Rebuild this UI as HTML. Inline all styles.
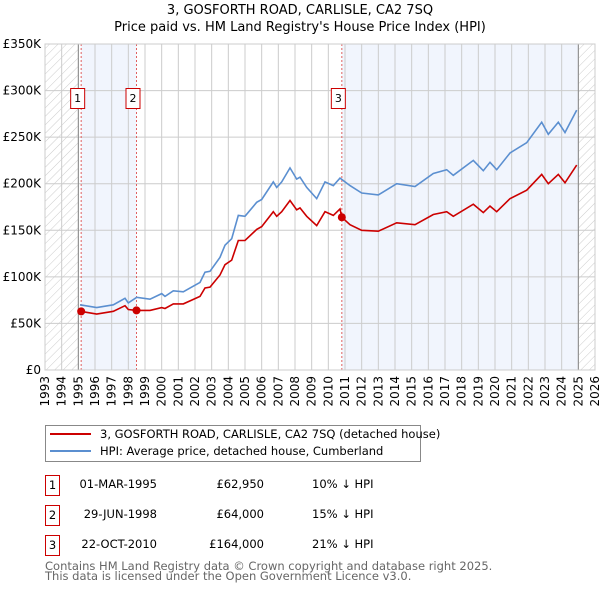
<!DOCTYPE html>
<html><head><meta charset="utf-8"><style>
body{margin:0;background:#fff;font-family:"Liberation Sans","DejaVu Sans",sans-serif;}
svg text{font-family:"DejaVu Sans","Liberation Sans",sans-serif;}
</style></head><body>
<svg id="chart" width="600" height="590" viewBox="0 0 600 590" xmlns="http://www.w3.org/2000/svg">
<defs><pattern id="hatch" width="6" height="6" patternUnits="userSpaceOnUse" patternTransform="rotate(45)"><line x1="0" y1="0" x2="0" y2="6" stroke="#ccc" stroke-width="1"/></pattern></defs>
<text x="300" y="14" text-anchor="middle" font-size="13" fill="#000">3, GOSFORTH ROAD, CARLISLE, CA2 7SQ</text>
<text x="300" y="31" text-anchor="middle" font-size="13" fill="#000">Price paid vs. HM Land Registry's House Price Index (HPI)</text>
<g id="plot"></g>
<g>
<rect x="45.5" y="425.5" width="375" height="36" fill="#fff" stroke="#888"/>
<line x1="50" y1="434" x2="91" y2="434" stroke="#cc0000" stroke-width="2"/>
<text x="100" y="438" font-size="11.5">3, GOSFORTH ROAD, CARLISLE, CA2 7SQ (detached house)</text>
<line x1="50" y1="451" x2="91" y2="451" stroke="#5b8fd0" stroke-width="2"/>
<text x="100" y="455" font-size="11.5">HPI: Average price, detached house, Cumberland</text>
</g>
<g font-size="11.5">
<rect x="45.5" y="475.5" width="14" height="20" fill="#fff" stroke="#c00"/><text x="52.5" y="489" text-anchor="middle">1</text>
<text x="157" y="488" text-anchor="end">01-MAR-1995</text><text x="264" y="488" text-anchor="end">£62,950</text><text x="312" y="488">10% ↓ HPI</text>
<rect x="45.5" y="505.5" width="14" height="20" fill="#fff" stroke="#c00"/><text x="52.5" y="519" text-anchor="middle">2</text>
<text x="157" y="518" text-anchor="end">29-JUN-1998</text><text x="264" y="518" text-anchor="end">£64,000</text><text x="312" y="518">15% ↓ HPI</text>
<rect x="45.5" y="535.5" width="14" height="20" fill="#fff" stroke="#c00"/><text x="52.5" y="549" text-anchor="middle">3</text>
<text x="157" y="548" text-anchor="end">22-OCT-2010</text><text x="264" y="548" text-anchor="end">£164,000</text><text x="312" y="548">21% ↓ HPI</text>
</g>
<text x="45" y="570" font-size="11.5" fill="#666">Contains HM Land Registry data © Crown copyright and database right 2025.</text>
<text x="45" y="580" font-size="11.5" fill="#666">This data is licensed under the Open Government Licence v3.0.</text>
</svg>
<script>
const hpiYears=[1995.1,1996.1,1997.1,1997.8,1998.0,1998.5,1999.3,2000.0,2000.2,2000.7,2001.3,2001.8,2002.3,2002.6,2002.9,2003.5,2003.8,2004.2,2004.6,2005.0,2005.7,2006.0,2006.7,2006.9,2007.2,2007.7,2008.1,2008.3,2008.7,2009.3,2009.8,2010.3,2010.7,2011.3,2012.0,2013.0,2014.1,2015.2,2016.3,2017.1,2017.5,2018.7,2019.3,2019.7,2020.1,2020.9,2021.9,2022.8,2023.2,2023.8,2024.2,2024.9];
const hpiValues=[70,67,70,77,72,78,76,82,79,85,84,89,94,105,106,121,134,141,166,165,180,183,202,196,202,217,205,207,196,184,202,198,206,198,190,188,200,197,211,215,209,225,214,223,215,233,244,266,253,266,255,279];
const priceYears=[1995.17,1996.1,1997.1,1997.8,1998.0,1998.49,1999.3,2000.0,2000.2,2000.7,2001.3,2001.8,2002.3,2002.6,2002.9,2003.5,2003.8,2004.2,2004.6,2005.0,2005.7,2006.0,2006.7,2006.9,2007.2,2007.7,2008.1,2008.3,2008.7,2009.3,2009.8,2010.3,2010.7,2010.81,2011.3,2012.0,2013.0,2014.1,2015.2,2016.3,2017.1,2017.5,2018.7,2019.3,2019.7,2020.1,2020.9,2021.9,2022.8,2023.2,2023.8,2024.2,2024.9];
const priceValues=[62.95,60,63,69,65,64,64,67,66,71,71,75,79,88,89,102,113,118,139,139,151,154,170,165,170,182,172,174,165,155,170,166,173,164,156,150,149,158,156,167,170,165,178,169,176,170,184,193,210,200,210,201,220];
const saleYears=[1995.17,1998.49,2010.81];
const saleValues=[62.95,64,164];
const saleLabels=["1","2","3"];
const yTicks=[0,50,100,150,200,250,300,350];
const yTickLabels=["£0","£50K","£100K","£150K","£200K","£250K","£300K","£350K"];
const xStart=1993, xEnd=2026;
const L=45,R=595,T=44,B=370;
const sx=y=>L+(y-xStart)/(xEnd-xStart)*(R-L);
const sy=v=>B-v/350*(B-T);
const g=document.getElementById('plot');
const NS='http://www.w3.org/2000/svg';
function mk(tag,at,parent){const e=document.createElementNS(NS,tag);for(const k in at)e.setAttribute(k,at[k]);(parent||g).appendChild(e);return e;}
let e;
e=mk('rect',{x:L,y:T,width:R-L,height:B-T,fill:'#fff'});


e=mk('rect',{x:sx(1995.17),y:T,width:sx(1998.49)-sx(1995.17),height:B-T,fill:'#eef3fc',opacity:0.8});


e=mk('rect',{x:sx(2010.81),y:T,width:sx(2025)-sx(2010.81),height:B-T,fill:'#eef3fc',opacity:0.8});


e=mk('rect',{x:L,y:T,width:sx(1995)-L,height:B-T,fill:'url(#hatch)'});


e=mk('rect',{x:sx(2025),y:T,width:R-sx(2025),height:B-T,fill:'url(#hatch)'});


for(let yr=xStart;yr<=xEnd;yr++){
 e=mk('line',{x1:sx(yr),x2:sx(yr),y1:T,y2:B,stroke:'#ccc','stroke-width':1});
 
 
 e=mk('text',{x:sx(yr)+4,y:B+6,'font-size':12,'text-anchor':'end',transform:`rotate(-90 ${sx(yr)+4} ${B+6})`});
 e.textContent=yr;
 
 
}
yTicks.forEach((v,i)=>{
 e=mk('line',{x1:L,x2:R,y1:sy(v),y2:sy(v),stroke:'#ccc','stroke-width':1});
 
 
 e=mk('text',{x:L-4,y:sy(v)+4,'font-size':12,'text-anchor':'end'});
 e.textContent=yTickLabels[i];
 
 
});
[1995,2025].forEach(yr=>{
 e=mk('line',{x1:sx(yr),x2:sx(yr),y1:T,y2:B,stroke:'#888','stroke-width':1});
 
 
});
saleYears.forEach(yr=>{
 e=mk('line',{x1:sx(yr),x2:sx(yr),y1:T,y2:B,stroke:'#e06060','stroke-width':1,'stroke-dasharray':'2,2'});
 
 
});
const pts=(xs,vs)=>xs.map((x,i)=>sx(x).toFixed(1)+','+sy(vs[i]).toFixed(1)).join(' ');
e=mk('polyline',{points:pts(hpiYears,hpiValues),fill:'none',stroke:'#5b8fd0','stroke-width':1.6});


e=mk('polyline',{points:pts(priceYears,priceValues),fill:'none',stroke:'#cc0000','stroke-width':1.6});


saleYears.forEach((yr,i)=>{
 e=mk('circle',{cx:sx(yr),cy:sy(saleValues[i]),r:4,fill:'#cc0000'});
 
 
 e=mk('rect',{x:sx(yr)-10.5,y:88.5,width:14,height:20,fill:'#fff',stroke:'#c00'});
 
 
 e=mk('text',{x:sx(yr)-3.5,y:102,'font-size':11,'text-anchor':'middle'});
 e.textContent=saleLabels[i];
 
 
});
e=mk('rect',{x:L,y:T,width:R-L,height:B-T,fill:'none',stroke:'#ccc'});


</script>
</body></html>
